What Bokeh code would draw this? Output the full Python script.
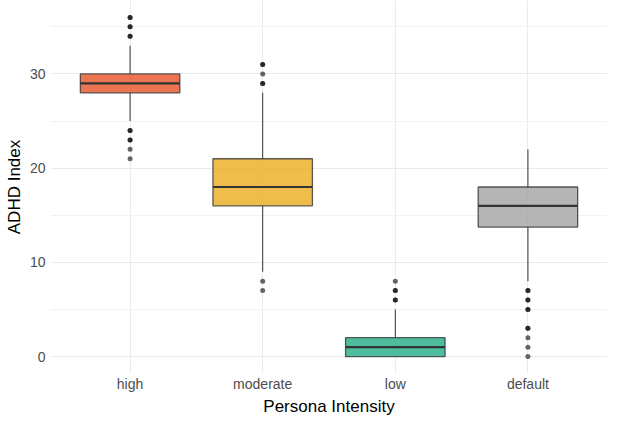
from bokeh.plotting import figure
from bokeh.models import Range1d, FixedTicker, SingleIntervalTicker, ColumnDataSource
from bokeh.embed import file_html
from bokeh.resources import INLINE

# ---- data ----
categories = ["high", "moderate", "low", "default"]
q1 = [28, 16, 0, 13.75]
median = [29, 18, 1, 16]
q3 = [30, 21, 2, 18]
whisker_low = [25, 9, 0, 8]
whisker_high = [33, 28, 5, 22]
fill_colors = ["#E65224", "#EBAC1E", "#20AC84", "#A2A2A2"]

# outliers (repeated values = several observations overlapping)
outlier_group = ["high"] * 12 + ["moderate"] * 7 + ["low"] * 5 + ["default"] * 11
outlier_value = [36, 36, 35, 35, 34, 34, 24, 24, 23, 23, 22, 21,
                 31, 31, 30, 29, 29, 8, 7,
                 8, 7, 7, 6, 6,
                 7, 7, 6, 6, 5, 5, 3, 3, 2, 1, 0]

xpos = [i + 1 for i in range(len(categories))]
box_w = 0.75

p = figure(width=607, height=418, output_backend="svg", toolbar_location=None,
           x_range=Range1d(0.4, 4.6), y_range=Range1d(-1.8, 37.8),
           min_border_left=50, min_border_right=0, min_border_top=0, min_border_bottom=0)
p.outline_line_color = None
p.background_fill_color = "white"

src = ColumnDataSource(dict(
    x=xpos, q1=q1, q3=q3, med=median, wl=whisker_low, wh=whisker_high,
    fill=fill_colors,
    xl=[x - box_w / 2 for x in xpos], xr=[x + box_w / 2 for x in xpos]))

# whiskers
p.segment(x0="x", x1="x", y0="q3", y1="wh", source=src, line_color="#333333", line_width=1)
p.segment(x0="x", x1="x", y0="wl", y1="q1", source=src, line_color="#333333", line_width=1)
# boxes
p.vbar(x="x", width=box_w, bottom="q1", top="q3", source=src, fill_color="fill",
       fill_alpha=0.8, line_color="#333333", line_alpha=0.8, line_width=1.3)
# medians
p.segment(x0="xl", x1="xr", y0="med", y1="med", source=src, line_color="#333333", line_width=2.2)
# outliers
ox = [xpos[categories.index(g)] for g in outlier_group]
p.scatter(ox, outlier_value, size=5, fill_color="black", line_color=None, fill_alpha=0.6)

# axes
p.xaxis.ticker = FixedTicker(ticks=xpos)
p.xaxis.major_label_overrides = {x: c for x, c in zip(xpos, categories)}
p.yaxis.ticker = SingleIntervalTicker(interval=10, num_minor_ticks=2)
p.xaxis.axis_label = "Persona Intensity"
p.yaxis.axis_label = "ADHD Index"
for ax in (p.xaxis, p.yaxis):
    ax.axis_line_color = None
    ax.major_tick_line_color = None
    ax.minor_tick_line_color = None
    ax.major_tick_out = 0
    ax.minor_tick_out = 0
    ax.major_label_text_color = "#4D4D4D"
    ax.major_label_text_font = "Liberation Sans"
    ax.major_label_text_font_size = "14px"
    ax.axis_label_text_font = "Liberation Sans"
    ax.axis_label_text_font_size = "17px"
    ax.axis_label_text_font_style = "normal"
    ax.axis_label_text_color = "black"
    ax.axis_label_text_line_height = 1.0
    ax.major_label_text_line_height = 1.0
p.xaxis.major_label_standoff = 2
p.yaxis.major_label_standoff = 5
p.xaxis.axis_label_standoff = 2
p.yaxis.axis_label_standoff = 3

p.xgrid.grid_line_color = "#EBEBEB"
p.ygrid.grid_line_color = "#EBEBEB"
p.ygrid.minor_grid_line_color = "#F2F2F2"
p.xgrid.grid_line_width = 1
p.ygrid.grid_line_width = 1

open("out.html", "w").write(file_html(p, INLINE))
